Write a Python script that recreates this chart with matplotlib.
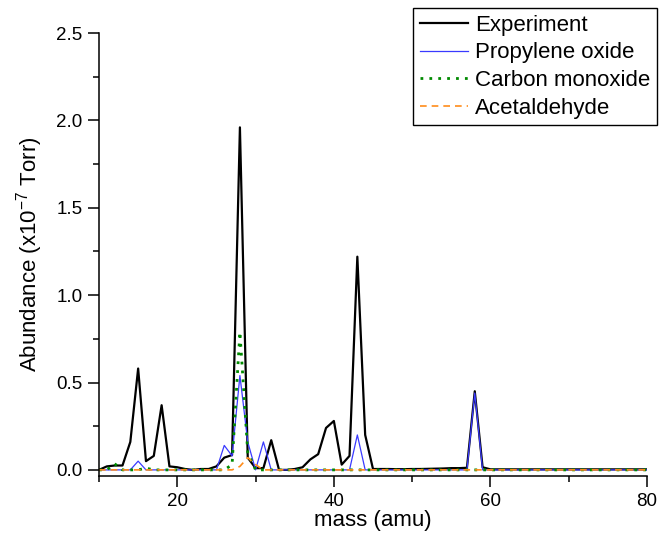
import matplotlib
matplotlib.use("Agg")
import matplotlib.pyplot as plt
from matplotlib.ticker import MultipleLocator

plt.rcParams["font.family"] = ["Liberation Sans", "DejaVu Sans"]
plt.rcParams["mathtext.fontset"] = "custom"
plt.rcParams["mathtext.rm"] = "Liberation Sans"
plt.rcParams["axes.unicode_minus"] = False

# mass axis (amu)
masses = list(range(10, 81))

# one value per mass 10..80
experiment = [
    0.0, 0.02, 0.025, 0.025, 0.16, 0.58, 0.05, 0.08, 0.37, 0.02,   # 10-19
    0.015, 0.005, 0.0, 0.005, 0.005, 0.02, 0.07, 0.085, 1.96, 0.07,  # 20-29
    0.01, 0.01, 0.17, 0.0, 0.0, 0.005, 0.015, 0.06, 0.09, 0.24,      # 30-39
    0.28, 0.03, 0.08, 1.22, 0.2, 0.005, 0.005, 0.005, 0.004, 0.004,  # 40-49
    0.005, 0.005, 0.006, 0.007, 0.008, 0.01, 0.01, 0.012, 0.45, 0.015,  # 50-59
    0.003, 0.003, 0.003, 0.003, 0.003, 0.003, 0.003, 0.003, 0.003, 0.003,  # 60-69
    0.003, 0.003, 0.003, 0.003, 0.003, 0.003, 0.003, 0.003, 0.003, 0.003,  # 70-79
    0.003,  # 80
]
propylene_oxide = [
    0, 0, 0, 0, 0, 0.05, 0, 0, 0, 0,
    0, 0, 0, 0, 0, 0, 0.14, 0.08, 0.54, 0.16,
    0, 0.16, 0, 0, 0, 0, 0, 0, 0, 0,
    0, 0, 0, 0.2, 0, 0, 0, 0, 0, 0,
    0, 0, 0, 0, 0, 0, 0, 0, 0.44, 0,
    0, 0, 0, 0, 0, 0, 0, 0, 0, 0,
    0, 0, 0, 0, 0, 0, 0, 0, 0, 0,
    0,
]
carbon_monoxide = [
    0, 0, 0.035, 0, 0, 0, 0.01, 0, 0, 0,
    0, 0, 0, 0, 0, 0, 0, 0.03, 0.79, 0.1,
    0, 0, 0, 0, 0, 0, 0, 0, 0, 0,
    0, 0, 0, 0, 0, 0, 0, 0, 0, 0,
    0, 0, 0, 0, 0, 0, 0, 0, 0, 0,
    0, 0, 0, 0, 0, 0, 0, 0, 0, 0,
    0, 0, 0, 0, 0, 0, 0, 0, 0, 0,
    0,
]
acetaldehyde = [
    0, 0, 0, 0, 0, 0, 0, 0, 0, 0,
    0, 0, 0, 0, 0, 0, 0, 0, 0.02, 0.07,
    0.03, 0, 0, 0, 0, 0, 0, 0, 0, 0,
    0, 0, 0, 0, 0, 0, 0, 0, 0, 0,
    0, 0, 0, 0, 0, 0, 0, 0, 0, 0,
    0, 0, 0, 0, 0, 0, 0, 0, 0, 0,
    0, 0, 0, 0, 0, 0, 0, 0, 0, 0,
    0,
]

fig = plt.figure(figsize=(6.69, 5.53), dpi=100)
ax = fig.add_axes([99 / 669, 1 - 476 / 553, 548 / 669, 443 / 553])

ax.plot(masses, experiment, color="black", lw=1.6, label="Experiment")
ax.plot(masses, propylene_oxide, color="#3a3aff", lw=0.9, label="Propylene oxide")
ax.plot(masses, carbon_monoxide, color="#008a00", lw=2.0, ls=(0, (1, 2.2)),
        label="Carbon monoxide")
ax.plot(masses, acetaldehyde, color="#ff8c1a", lw=1.2, ls=(0, (4, 3)),
        label="Acetaldehyde")

ax.set_xlim(10, 80)
ax.set_ylim(-0.035, 2.5)
ax.xaxis.set_major_locator(MultipleLocator(20))
ax.xaxis.set_minor_locator(MultipleLocator(10))
ax.yaxis.set_major_locator(MultipleLocator(0.5))
ax.yaxis.set_minor_locator(MultipleLocator(0.25))
ax.yaxis.set_major_formatter(plt.FormatStrFormatter("%.1f"))

ax.spines["top"].set_visible(False)
ax.spines["right"].set_visible(False)
for s in ("left", "bottom"):
    ax.spines[s].set_linewidth(1.1)
ax.tick_params(which="major", direction="out", length=8, width=1.1, labelsize=13.5, pad=4)
ax.tick_params(which="minor", direction="out", length=4, width=1.1)

ax.set_xlabel("mass (amu)", fontsize=16, labelpad=0)
ax.set_ylabel(r"Abundance (x10$^{\mathregular{-7}}$ Torr)", fontsize=16, labelpad=8)

ax.legend(loc="upper right", bbox_to_anchor=(657 / 669, 1 - 8 / 553),
          bbox_transform=fig.transFigure, fontsize=16, frameon=True,
          fancybox=False, edgecolor="black", framealpha=1,
          handlelength=2.2, handletextpad=0.3, labelspacing=0.3,
          borderpad=0.3, borderaxespad=0)

fig.savefig("out.png", dpi=100)
